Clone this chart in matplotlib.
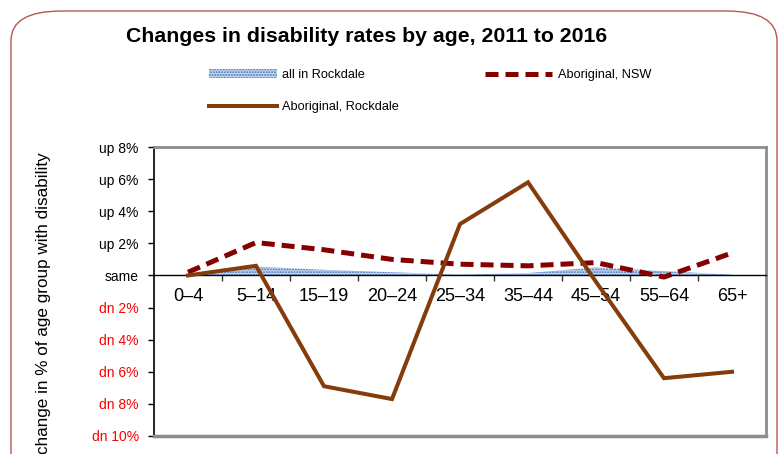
import matplotlib
matplotlib.use("Agg")
import matplotlib.pyplot as plt
from matplotlib import font_manager
from matplotlib.patches import FancyBboxPatch, Patch
from matplotlib.lines import Line2D

# data (change in % of age group with disability, 2011 -> 2016)
age_groups = ["0\u20134", "5\u201314", "15\u201319", "20\u201324", "25\u201334",
              "35\u201344", "45\u201354", "55\u201364", "65+"]
all_rockdale = [0.0, 0.55, 0.35, 0.2, 0.05, 0.15, 0.5, 0.27, 0.05]
aboriginal_nsw = [0.2, 2.05, 1.6, 1.0, 0.7, 0.6, 0.8, -0.1, 1.4]
aboriginal_rockdale = [0.0, 0.6, -6.9, -7.7, 3.2, 5.8, -0.4, -6.4, -6.0]

ytick_vals = [8, 6, 4, 2, 0, -2, -4, -6, -8, -10]
ytick_labels = ["up 8%", "up 6%", "up 4%", "up 2%", "same",
                "dn 2%", "dn 4%", "dn 6%", "dn 8%", "dn 10%"]

names = {f.name for f in font_manager.fontManager.ttflist}
narrow = "Liberation Sans Narrow" if "Liberation Sans Narrow" in names else "Liberation Sans"
plt.rcParams['font.family'] = [narrow, 'DejaVu Sans']

W, H = 780, 454
fig = plt.figure(figsize=(W / 100, H / 100), dpi=100)

# rounded chart border
border = FancyBboxPatch((11 / W, -0.2), 766 / W, 1.2 - 11 / H,
                        boxstyle="round,pad=0,rounding_size=0.065",
                        transform=fig.transFigure, facecolor='none',
                        edgecolor='#b5574f', linewidth=1.0)
fig.patches.append(border)

ax = fig.add_axes([154 / W, 1 - 436 / H, (766 - 154) / W, (436 - 147) / H])
x = list(range(len(age_groups)))

ax.fill_between(x, 0, all_rockdale, facecolor='#cbd9f0', edgecolor='#3f73c0',
                hatch='......', linewidth=0, zorder=2)
ax.plot(x, aboriginal_nsw, color='#850000', linewidth=3.6,
        dashes=(2.6, 1.4), zorder=3)
ax.plot(x, aboriginal_rockdale, color='#843c0c', linewidth=2.9, zorder=4,
        solid_joinstyle='miter')

ax.set_xlim(-0.5, len(age_groups) - 0.5)
ax.set_ylim(-10, 8)

# frame: black left axis and zero line, grey outline of plot area
for side in ['top', 'right']:
    ax.spines[side].set_color('#8c8c8c')
    ax.spines[side].set_linewidth(2)
ax.spines['left'].set_color('black')
ax.spines['left'].set_linewidth(1.2)
ax.spines['bottom'].set_position(('data', 0))
ax.spines['bottom'].set_color('black')
ax.spines['bottom'].set_linewidth(1.0)
ax.axhline(-10, color='#8c8c8c', linewidth=2.5, zorder=5, clip_on=False)

ax.set_yticks(ytick_vals)
ax.set_yticklabels(ytick_labels, fontsize=10)
for lbl, v in zip(ax.get_yticklabels(), ytick_vals):
    lbl.set_color('red' if v < 0 else 'black')
ax.tick_params(axis='y', direction='out', length=4, width=1, pad=7)

ax.set_xticks([i + 0.5 for i in x])
ax.set_xticklabels([])
ax.tick_params(axis='x', direction='out', length=4, width=1, color='#333333')
for i, name in enumerate(age_groups):
    ax.annotate(name, xy=(i, 0), xytext=(0, -9), textcoords='offset points',
                ha='center', va='top', fontsize=13)

ax.set_ylabel("change in % of age group with disability", fontsize=12.3)
ax.yaxis.set_label_coords(-0.168, 0.46)

fig.text(367 / W, 1 - 37 / H, "Changes in disability rates by age, 2011 to 2016",
         ha='center', va='center', fontsize=15.3, fontweight='bold',
         family=['Liberation Sans', 'DejaVu Sans'])

handles = [Patch(facecolor='#cbd9f0', edgecolor='#3f73c0', hatch='......', linewidth=0),
           Line2D([], [], color='#843c0c', linewidth=2.9),
           Line2D([], [], color='#850000', linewidth=3.6, dashes=(2.6, 1.4))]
labels = ["all in Rockdale", "Aboriginal, Rockdale", "Aboriginal, NSW"]
fig.legend(handles, labels, loc='upper left', bbox_to_anchor=(203 / W, 1 - 63 / H),
           ncol=2, frameon=False, fontsize=9.2, handlelength=5.3, handleheight=0.7,
           handletextpad=0.4, columnspacing=6.7, labelspacing=1.55, borderpad=0)

fig.savefig("out.png", dpi=100)
